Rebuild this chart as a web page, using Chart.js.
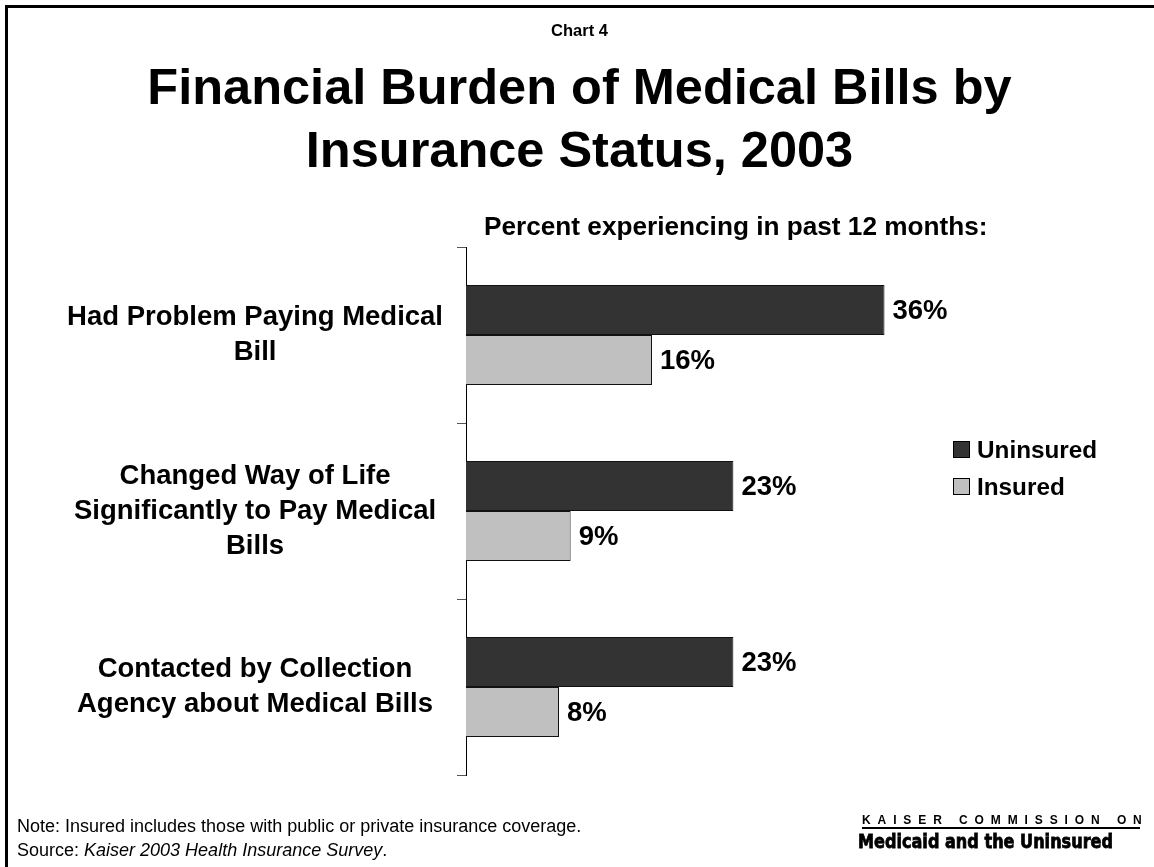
<!DOCTYPE html>
<html>
<head>
<meta charset="utf-8">
<title>Financial Burden of Medical Bills by Insurance Status, 2003</title>
<script src="https://cdn.jsdelivr.net/npm/chart.js@4.4.1/dist/chart.umd.min.js"></script>
<style>
  body { margin: 0; background: #fff; font-family: "Liberation Sans", Arial, sans-serif; }
  #page { position: relative; width: 1154px; height: 867px; overflow: hidden; }
  #frame { position: absolute; left: 5px; top: 5px; width: 1200px; height: 900px; border-top: 3px solid #000; border-left: 3px solid #000; }
  #chart { position: absolute; left: 0; top: 0; }
  .txt { position: absolute; white-space: nowrap; color: #000; }
  .center { left: 5px; right: 0; text-align: center; }
  .swatch { position: absolute; width: 15px; height: 15px; border: 1px solid #000; }
</style>
</head>
<body>
<div id="page">
  <div id="frame"></div>
  <canvas id="chart" width="1154" height="867"></canvas>

  <div class="txt center" style="top:20px; font:bold 16.5px/20px 'Liberation Sans', Arial, sans-serif;">Chart 4</div>
  <div class="txt center" style="top:55px; font:bold 50.5px/63px 'Liberation Sans', Arial, sans-serif;">Financial Burden of Medical Bills by<br>Insurance Status, 2003</div>
  <div class="txt" style="left:484px; top:211px; font:bold 26.2px/30px 'Liberation Sans', Arial, sans-serif;">Percent experiencing in past 12 months:</div>

  <!-- legend -->
  <div class="swatch" style="left:953px; top:441px; background:#333333;"></div>
  <div class="txt" style="left:977px; top:435px; font:bold 24.3px/30px 'Liberation Sans', Arial, sans-serif;">Uninsured</div>
  <div class="swatch" style="left:953px; top:478px; background:#c0c0c0;"></div>
  <div class="txt" style="left:977px; top:472px; font:bold 24.3px/30px 'Liberation Sans', Arial, sans-serif;">Insured</div>

  <!-- footnotes -->
  <div class="txt" style="left:17px; top:816px; font:18px/20px 'Liberation Sans', Arial, sans-serif;">Note: Insured includes those with public or private insurance coverage.</div>
  <div class="txt" style="left:17px; top:840px; font:18px/20px 'Liberation Sans', Arial, sans-serif;">Source: <i>Kaiser 2003 Health Insurance Survey</i>.</div>

  <!-- logo -->
  <div class="txt" style="left:862px; top:813px; font:bold 12px/14px 'Liberation Sans', Arial, sans-serif; letter-spacing:6.9px;">KAISER COMMISSION ON</div>
  <div style="position:absolute; left:862px; top:827px; width:278px; height:2px; background:#000;"></div>
  <div id="logo2" class="txt" style="left:858px; top:830px; font:bold 19px/22px 'DejaVu Sans', sans-serif; -webkit-text-stroke:0.8px #000; transform-origin:0 0;">Medicaid and the Uninsured</div>
</div>

<script>
// survey results, percent experiencing in past 12 months
var categories = [
  ['Had Problem Paying Medical', 'Bill'],
  ['Changed Way of Life', 'Significantly to Pay Medical', 'Bills'],
  ['Contacted by Collection', 'Agency about Medical Bills']
];
var uninsured = [36, 23, 23];
var insured = [16, 9, 8];

// stretch the logo line to its box width
var logo = document.getElementById('logo2');
logo.style.transform = 'scaleX(' + (255 / logo.getBoundingClientRect().width) + ')';

Chart.defaults.font.family = '"Liberation Sans", Arial, sans-serif';
Chart.defaults.color = '#000';

// percent labels at the end of each bar
var valueLabels = {
  id: 'valueLabels',
  afterDatasetsDraw: function(chart) {
    var ctx = chart.ctx;
    ctx.save();
    ctx.font = 'bold 27.5px "Liberation Sans", Arial, sans-serif';
    ctx.fillStyle = '#000';
    ctx.textBaseline = 'middle';
    chart.data.datasets.forEach(function(ds, i) {
      chart.getDatasetMeta(i).data.forEach(function(bar, j) {
        ctx.fillText(ds.data[j] + '%', bar.x + 8, bar.y + 1);
      });
    });
    ctx.restore();
  }
};

var ctx = document.getElementById('chart').getContext('2d');
var myChart = new Chart(ctx, {
  type: 'bar',
  data: {
    labels: categories,
    datasets: [{
      label: 'Uninsured',
      data: uninsured,
      backgroundColor: '#333333',
      borderColor: '#111111',
      borderWidth: 1
    }, {
      label: 'Insured',
      data: insured,
      backgroundColor: '#c0c0c0',
      borderColor: '#111111',
      borderWidth: 1
    }]
  },
  options: {
    indexAxis: 'y',
    responsive: false,
    animation: false,
    events: [],
    categoryPercentage: 0.568,
    barPercentage: 1,
    layout: {
      padding: { top: 247, bottom: 92, left: 0, right: 223 }
    },
    plugins: {
      legend: { display: false },
      tooltip: { enabled: false }
    },
    scales: {
      x: {
        display: false,
        min: 0,
        max: 40
      },
      y: {
        afterFit: function(scale) { scale.width = 466; },
        border: { color: '#000', width: 1 },
        grid: {
          drawOnChartArea: false,
          offset: true,
          tickLength: 9,
          color: '#555'
        },
        ticks: {
          crossAlign: 'center',
          padding: 14,
          color: '#000',
          font: { size: 27.5, weight: 'bold', lineHeight: 1.27 }
        }
      }
    }
  },
  plugins: [valueLabels]
});
</script>
</body>
</html>
